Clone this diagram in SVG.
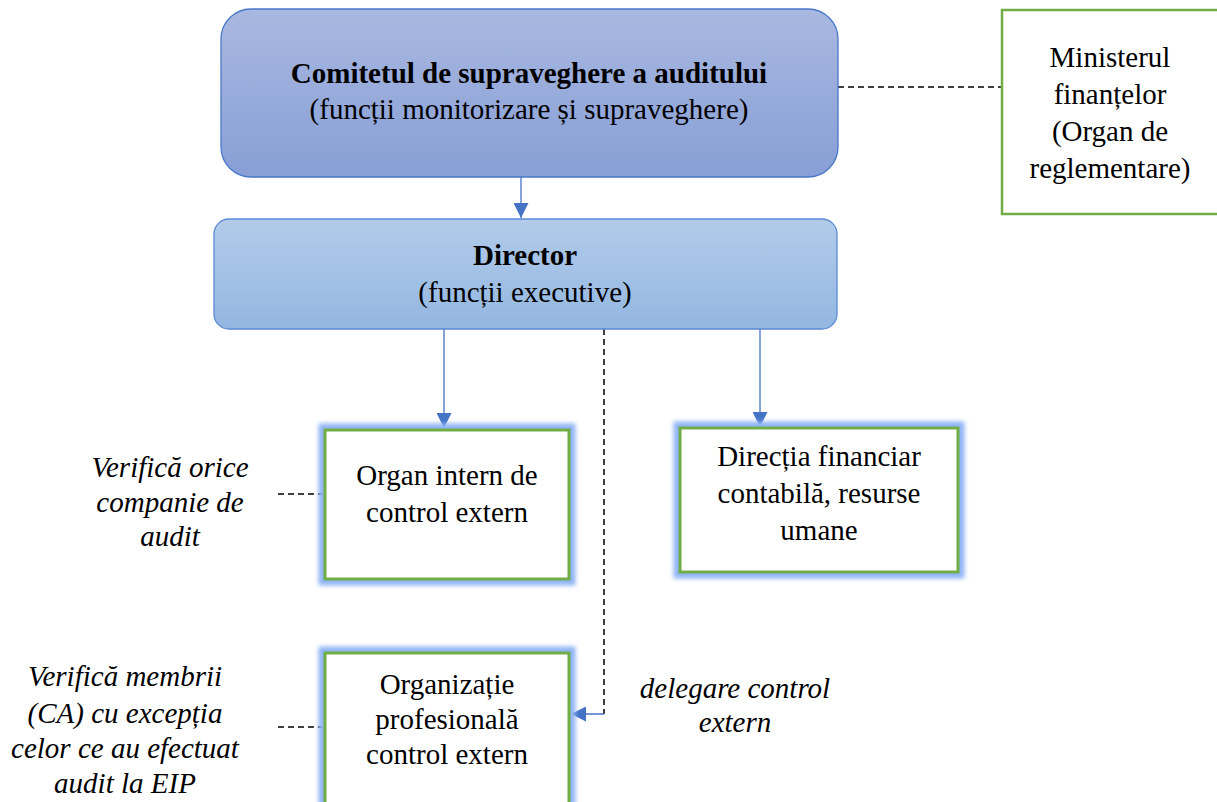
<svg xmlns="http://www.w3.org/2000/svg" width="1217" height="802" viewBox="0 0 1217 802">
  <defs>
    <linearGradient id="gradTop" x1="0" y1="0" x2="0" y2="1">
      <stop offset="0" stop-color="#a9b8e0"/>
      <stop offset="1" stop-color="#879fd6"/>
    </linearGradient>
    <linearGradient id="gradDir" x1="0" y1="0" x2="0" y2="1">
      <stop offset="0" stop-color="#b2cbe9"/>
      <stop offset="1" stop-color="#93b7e1"/>
    </linearGradient>
    <filter id="glow" x="-20%" y="-20%" width="140%" height="140%">
      <feGaussianBlur stdDeviation="2"/>
    </filter>
    <marker id="arrow" viewBox="0 0 10 10" refX="10" refY="5" markerWidth="15" markerHeight="15" markerUnits="userSpaceOnUse" orient="auto">
      <path d="M0,0 L10,5 L0,10 Z" fill="#4472c4"/>
    </marker>
  </defs>
  <style>
    text { font-family: "Liberation Serif", "Times New Roman", serif; font-size: 29px; fill: #000; text-anchor: middle; }
    .b { font-weight: bold; }
    .it { font-style: italic; }
    .lead { fill: none; stroke: #4472c4; stroke-width: 1.3; }
    .dash { fill: none; stroke: #000; stroke-width: 1.5; stroke-dasharray: 6 4; }
    .box { fill: #fff; stroke: #70ad47; stroke-width: 3; }
    .halo { fill: none; stroke: #8fb4f5; stroke-width: 13; filter: url(#glow); }
  </style>

  <rect width="1217" height="802" fill="#fff"/>

  <g id="connectors">
    <line class="lead" x1="521" y1="177" x2="521" y2="218" marker-end="url(#arrow)"/>
    <line class="lead" x1="444" y1="329" x2="444" y2="428" marker-end="url(#arrow)"/>
    <line class="lead" x1="760" y1="329" x2="760" y2="427" marker-end="url(#arrow)"/>
    <polyline class="dash" points="604,329 604,714"/>
    <line class="lead" x1="604" y1="714" x2="571" y2="714" marker-end="url(#arrow)"/>
    <line class="dash" x1="838" y1="87" x2="1001" y2="87"/>
    <line class="dash" x1="278" y1="494" x2="324" y2="494"/>
    <line class="dash" x1="278" y1="727" x2="324" y2="727"/>
  </g>

  <g id="comitet">
    <rect x="221" y="9" width="617" height="168" rx="30" fill="url(#gradTop)" stroke="#4a78c8" stroke-width="1.3"/>
    <text class="b" x="529" y="83">Comitetul de supraveghere a auditului</text>
    <text x="529" y="119">(funcții monitorizare și supraveghere)</text>
  </g>

  <g id="director">
    <rect x="214" y="219" width="623" height="110" rx="15" fill="url(#gradDir)" stroke="#5b8ad4" stroke-width="1.3"/>
    <text class="b" x="525" y="265">Director</text>
    <text x="525" y="302">(funcții executive)</text>
  </g>

  <g id="minister">
    <rect x="1002" y="10" width="230" height="204" fill="#fff" stroke="#70ad47" stroke-width="2.5"/>
    <text x="1110" y="67">Ministerul</text>
    <text x="1110" y="104">finanțelor</text>
    <text x="1110" y="141">(Organ de</text>
    <text x="1110" y="178">reglementare)</text>
  </g>

  <g id="organ-intern">
    <rect class="halo" x="325" y="430" width="244" height="149"/>
    <rect class="box" x="325" y="430" width="244" height="149"/>
    <text x="447" y="485">Organ intern de</text>
    <text x="447" y="522">control extern</text>
  </g>

  <g id="directia">
    <rect class="halo" x="680" y="428" width="278" height="144"/>
    <rect class="box" x="680" y="428" width="278" height="144"/>
    <text x="819" y="466">Direcția financiar</text>
    <text x="819" y="503">contabilă, resurse</text>
    <text x="819" y="540">umane</text>
  </g>

  <g id="organizatie">
    <rect class="halo" x="325" y="653" width="244" height="170"/>
    <rect class="box" x="325" y="653" width="244" height="170"/>
    <text x="447" y="694">Organizație</text>
    <text x="447" y="729">profesională</text>
    <text x="447" y="764">control extern</text>
  </g>

  <g id="note-organ">
    <text class="it" x="170" y="477">Verifică orice</text>
    <text class="it" x="170" y="512">companie de</text>
    <text class="it" x="170" y="546">audit</text>
  </g>

  <g id="note-organizatie">
    <text class="it" x="125" y="686">Verifică membrii</text>
    <text class="it" x="125" y="723">(CA) cu excepția</text>
    <text class="it" x="125" y="758">celor ce au efectuat</text>
    <text class="it" x="125" y="793">audit la EIP</text>
  </g>

  <g id="note-delegare">
    <text class="it" x="735" y="698">delegare control</text>
    <text class="it" x="735" y="732">extern</text>
  </g>
</svg>
